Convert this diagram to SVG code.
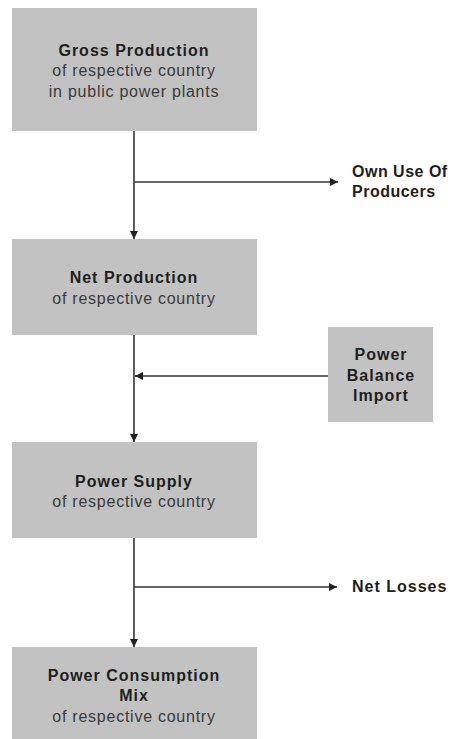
<svg xmlns="http://www.w3.org/2000/svg" width="452" height="739" viewBox="0 0 452 739">
<style>
.box{fill:#c2c2c2;}
text{font-family:"Liberation Sans",Arial,sans-serif;font-size:16px;text-anchor:middle;}
.t{font-weight:bold;fill:#1e1e1e;letter-spacing:1px;}
.s{fill:#3a3a3a;letter-spacing:0.75px;}
.l{font-weight:bold;fill:#1e1e1e;text-anchor:start;letter-spacing:0.5px;}
.c{stroke:#333;stroke-width:1.6;fill:none;}
</style>
<defs>
<marker id="ah" viewBox="0 0 10 10" refX="10" refY="5" markerWidth="8" markerHeight="8" markerUnits="userSpaceOnUse" orient="auto">
<path d="M0,0 L10,5 L0,10 z" fill="#222"/>
</marker>
</defs>
<rect width="452" height="739" fill="#fff"/>
<g id="gross">
<rect class="box" x="12" y="8" width="245" height="123"/>
<text class="t" x="134" y="56">Gross Production</text>
<text class="s" x="134" y="76">of respective country</text>
<text class="s" x="134" y="97">in public power plants</text>
</g>
<g id="net">
<rect class="box" x="12" y="239" width="245" height="96"/>
<text class="t" x="134" y="283">Net Production</text>
<text class="s" x="134" y="304">of respective country</text>
</g>
<g id="import">
<rect class="box" x="328" y="327" width="105" height="95"/>
<text class="t" x="381" y="360">Power</text>
<text class="t" x="381" y="381">Balance</text>
<text class="t" x="381" y="401">Import</text>
</g>
<g id="supply">
<rect class="box" x="12" y="442" width="245" height="96"/>
<text class="t" x="134" y="487">Power Supply</text>
<text class="s" x="134" y="507">of respective country</text>
</g>
<g id="mix">
<rect class="box" x="12" y="647" width="245" height="92"/>
<text class="t" x="134" y="681">Power Consumption</text>
<text class="t" x="134" y="701">Mix</text>
<text class="s" x="134" y="722">of respective country</text>
</g>
<g id="ownuse">
<text class="l" x="352" y="177">Own Use Of</text>
<text class="l" x="352" y="197">Producers</text>
</g>
<g id="losses">
<text class="l" x="352" y="592" style="letter-spacing:1px">Net Losses</text>
</g>
<g id="connectors">
<line class="c" x1="134" y1="131" x2="134" y2="239" marker-end="url(#ah)"/>
<line class="c" x1="134" y1="182" x2="338" y2="182" marker-end="url(#ah)"/>
<line class="c" x1="134" y1="335" x2="134" y2="442" marker-end="url(#ah)"/>
<line class="c" x1="328" y1="376" x2="135" y2="376" marker-end="url(#ah)"/>
<line class="c" x1="134" y1="538" x2="134" y2="647" marker-end="url(#ah)"/>
<line class="c" x1="134" y1="587" x2="337" y2="587" marker-end="url(#ah)"/>
</g>
</svg>
